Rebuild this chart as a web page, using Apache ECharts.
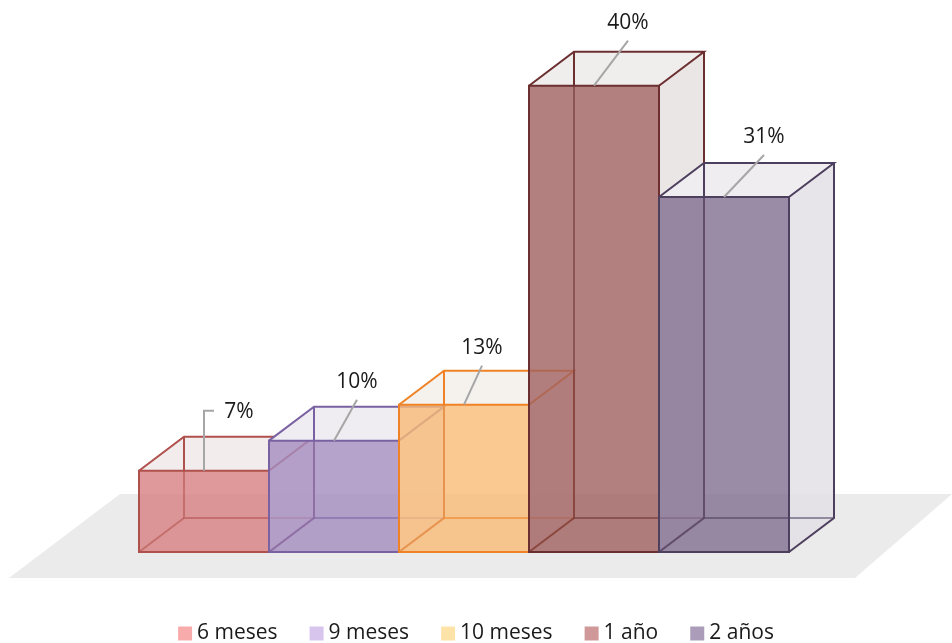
<!DOCTYPE html>
<html>
<head>
<meta charset="utf-8">
<script src="https://cdn.jsdelivr.net/npm/echarts@6/dist/echarts.min.js"></script>
<style>html,body{margin:0;padding:0;background:#fff;}#chart{width:952px;height:643px;}</style>
</head>
<body>
<div id="chart"></div>
<script>
// ---- data ----
const categories = ['6 meses', '9 meses', '10 meses', '1 año', '2 años'];
const values = [7.0, 9.6, 12.7, 40.2, 30.6];
const valueLabels = ['7%', '10%', '13%', '40%', '31%'];

// ---- styles ----
const FRONT = ['#d88081', '#a48cbf', '#f9ba76', '#a06060', '#816e90'];
const EDGE = ['#b0504c', '#7a62a2', '#ef8226', '#6b2f30', '#4d3f5e'];
const TOPF = ['#f2eced', '#efecf2', '#f5f2ee', '#f0eded', '#efedf0'];
const SIDE = ['#ede6e7', '#e9e6ee', '#f0ebe4', '#e8e2e2', '#e3e0e5'];
const LEGEND = ['#f7acab', '#d8c5ee', '#fee3a9', '#d09899', '#ab9cba'];
// leader-line end offsets (layout), relative to front-top centre
const LEADER = [[0, -60, 10], [23, -41, 0], [18, -39, 0], [34, -45, 0], [40, -42, 0]];
const DEPTH_X = 45, DEPTH_Y = -34;

function makeRender(k) {
  return function (params, api) {
    const i = api.value(0), v = api.value(1);
    const base = api.coord([i, 0]);
    const top = api.coord([i, v]);
    const w = api.size([1, 0])[0];
    const x0 = base[0] - w / 2, x1 = base[0] + w / 2, yb = base[1], yt = top[1];
    const dx = DEPTH_X, dy = DEPTH_Y;
    const edge = EDGE[k];
    const lw = 2;
    const children = [];
    children.push({ type: 'polygon', shape: { points: [[x1, yb], [x1, yt], [x1 + dx, yt + dy], [x1 + dx, yb + dy]] },
      style: { fill: SIDE[k], opacity: 0.85 } });
    children.push({ type: 'polygon', shape: { points: [[x0, yt], [x1, yt], [x1 + dx, yt + dy], [x0 + dx, yt + dy]] },
      style: { fill: TOPF[k] } });
    children.push({ type: 'line', shape: { x1: x0 + dx, y1: yt + dy, x2: x0 + dx, y2: yt }, style: { stroke: edge, lineWidth: lw } });
    children.push({ type: 'rect', shape: { x: x0, y: yt, width: w, height: yb - yt },
      style: { fill: FRONT[k], opacity: 0.8 } });
    children.push({ type: 'polyline', shape: { points: [[x0 + dx, yt], [x0 + dx, yb + dy], [x1 + dx, yb + dy]] },
      style: { stroke: edge, lineWidth: lw, fill: null, opacity: 0.55 } });
    children.push({ type: 'line', shape: { x1: x0, y1: yb, x2: x0 + dx, y2: yb + dy },
      style: { stroke: edge, lineWidth: lw, opacity: 0.55 } });
    children.push({ type: 'rect', shape: { x: x0, y: yt, width: w, height: yb - yt },
      style: { fill: null, stroke: edge, lineWidth: lw } });
    children.push({ type: 'polyline', shape: { points: [[x0, yt], [x0 + dx, yt + dy], [x1 + dx, yt + dy], [x1, yt]] },
      style: { fill: null, stroke: edge, lineWidth: lw } });
    children.push({ type: 'polyline', shape: { points: [[x1 + dx, yt + dy], [x1 + dx, yb + dy], [x1, yb]] },
      style: { fill: null, stroke: edge, lineWidth: lw } });
    const cx = base[0];
    const L = LEADER[k];
    let pts, lx, ly;
    if (L[2]) {
      pts = [[cx, yt], [cx, yt + L[1]], [cx + L[2], yt + L[1]]];
      lx = cx + L[2] + 25; ly = yt + L[1] + 1;
    } else {
      pts = [[cx, yt], [cx + L[0], yt + L[1]]];
      lx = cx + L[0]; ly = yt + L[1] - 18;
    }
    children.push({ type: 'polyline', shape: { points: pts }, style: { fill: null, stroke: '#a6a6a6', lineWidth: 2 } });
    children.push({ type: 'text', x: lx, y: ly,
      style: { text: valueLabels[k], fill: '#1a1a1a', font: '21px "Open Sans"', align: 'center', verticalAlign: 'middle' } });
    return { type: 'group', children: children };
  };
}

const series = categories.map(function (name, k) {
  return {
    type: 'custom',
    name: name,
    renderItem: makeRender(k),
    itemStyle: { color: LEGEND[k] },
    encode: { x: 0, y: 1 },
    data: [[k, values[k]]]
  };
});

const chart = echarts.init(document.getElementById('chart'));
chart.setOption({
  animation: false,
  backgroundColor: '#fff',
  grid: { left: 139, right: 163, top: 30, bottom: 91 },
  xAxis: { type: 'category', data: categories, show: false, boundaryGap: true },
  yAxis: { type: 'value', min: 0, max: 45, show: false },
  legend: {
    data: categories,
    top: 623,
    left: 'center',
    icon: 'rect',
    itemWidth: 14,
    itemHeight: 14,
    itemGap: 32,
    padding: 0,
    textStyle: { fontFamily: 'Open Sans', fontSize: 21, color: '#1a1a1a' }
  },
  graphic: [{
    type: 'polygon',
    z: 0,
    silent: true,
    shape: { points: [[120, 494], [952, 494], [855, 578], [9, 578]] },
    style: { fill: '#ebebeb' }
  }],
  series: series
});
</script>
</body>
</html>
